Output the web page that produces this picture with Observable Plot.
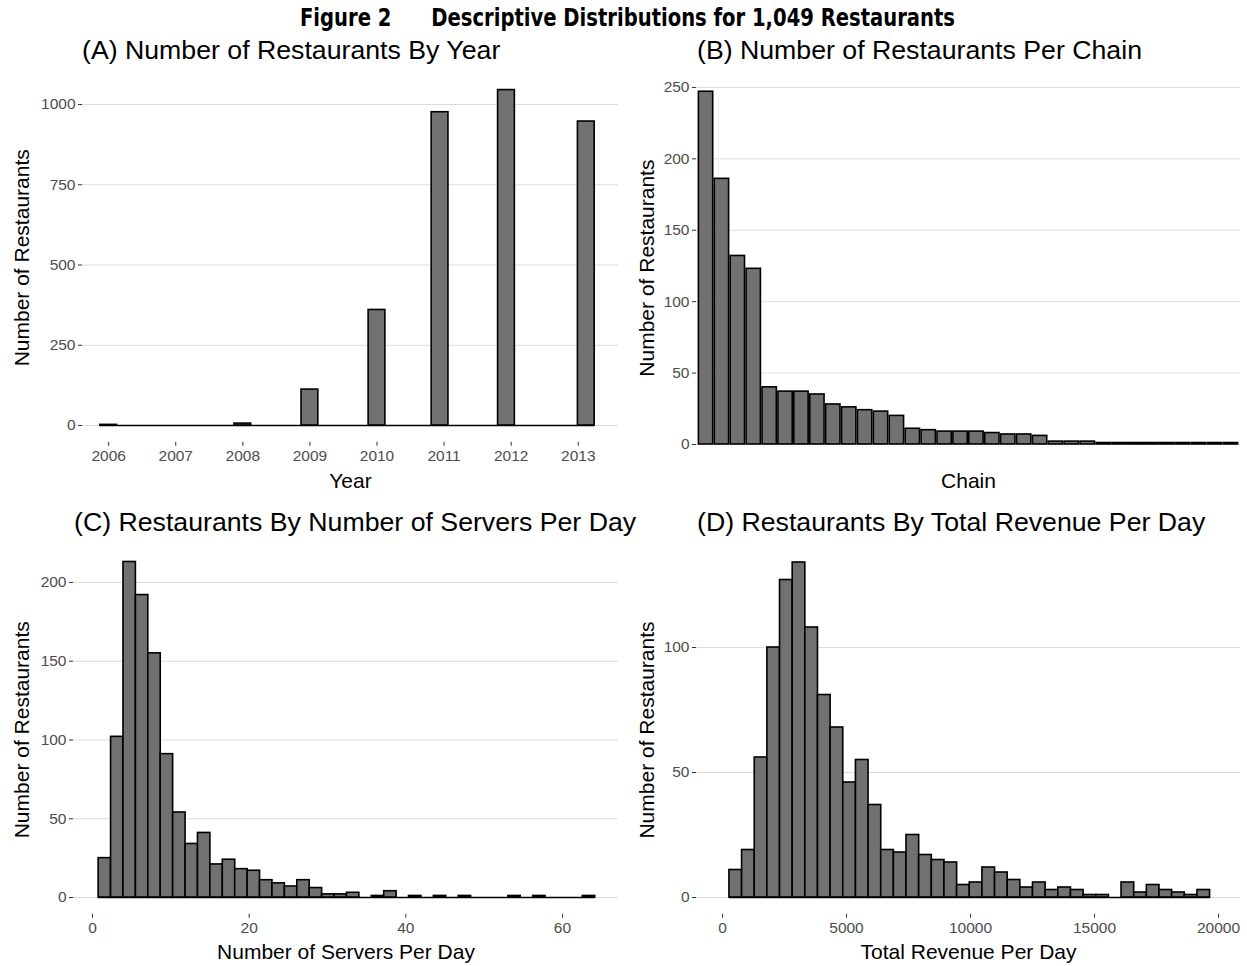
<!DOCTYPE html>
<html><head><meta charset="utf-8">
<script src="https://cdn.jsdelivr.net/npm/d3@7"></script>
<script src="https://cdn.jsdelivr.net/npm/@observablehq/plot@0.6"></script>
<style>
html,body{margin:0;padding:0;background:#fff;overflow:hidden}
#fig{position:relative;width:1247px;height:966px;background:#fff;font-family:"Liberation Sans",Arial,sans-serif;overflow:hidden}
.ttl{position:absolute;white-space:nowrap;line-height:1;color:#000}
.ptitle{font-size:26.7px}
.panel{position:absolute}
</style></head><body>
<div id="fig">
  <div id="figtitle" class="ttl" style="left:300px;top:6px;font-family:'Liberation Sans Narrow','DejaVu Sans Condensed','Liberation Sans',sans-serif;font-weight:bold;font-size:24px;transform-origin:0 50%"><span>Figure 2</span><span style="margin-left:44px">Descriptive Distributions for 1,049 Restaurants</span></div>
  <div class="ttl ptitle" style="left:82px;top:37px">(A) Number of Restaurants By Year</div>
  <div class="ttl ptitle" style="left:697px;top:37px">(B) Number of Restaurants Per Chain</div>
  <div class="ttl ptitle" style="left:74px;top:509px">(C) Restaurants By Number of Servers Per Day</div>
  <div class="ttl ptitle" style="left:697px;top:509px">(D) Restaurants By Total Revenue Per Day</div>
  <div id="pA" class="panel" style="left:0;top:60px"></div>
  <div id="pB" class="panel" style="left:625px;top:60px"></div>
  <div id="pC" class="panel" style="left:0;top:530px"></div>
  <div id="pD" class="panel" style="left:625px;top:530px"></div>
</div>
<script>
// ---------------- DATA ----------------
// (A) restaurants by year (histogram bins centred near each year)
const years = [2006, 2007, 2008, 2009, 2010, 2011, 2012, 2013];
const yearBinCenters = [2006.0, 2008.0, 2009.0, 2010.0, 2010.94, 2011.93, 2013.12];
const yearCounts = [2, 6, 112, 360, 976, 1045, 947];
const yearBinWidth = 0.25;
const yTicksA = [0, 250, 500, 750, 1000];

// (B) restaurants per chain (sorted)
const chainCounts = [247, 186, 132, 123, 40, 37, 37, 35, 28, 26, 24, 23, 20,
  11, 10, 9, 9, 9, 8, 7, 7, 6, 2, 2, 2, 1, 1, 1, 1, 1, 1, 1, 1, 1];
const yTicksB = [0, 50, 100, 150, 200, 250];

// (C) servers per day histogram
const serverBinStart = 0.78;
const serverBinWidth = 1.585;
const serverCounts = [25, 102, 213, 192, 155, 91, 54, 34, 41, 21,
  24, 18, 17, 11, 9, 7, 11, 6, 2, 2,
  3, 0, 1, 4, 0, 1, 0, 1, 0, 1,
  0, 0, 0, 1, 0, 1, 0, 0, 0, 1];
const xTicksC = [0, 20, 40, 60];
const yTicksC = [0, 50, 100, 150, 200];

// (D) total revenue per day histogram
const revenueBinStart = 280;
const revenueBinWidth = 510;
const revenueCounts = [11, 19, 56, 100, 127, 134, 108, 81, 68, 46,
  55, 37, 19, 18, 25, 17, 15, 14, 5, 6,
  12, 10, 7, 4, 6, 3, 4, 3, 1, 1,
  0, 6, 2, 5, 3, 2, 1, 3];
const xTicksD = [0, 5000, 10000, 15000, 20000];
const yTicksD = [0, 50, 100];

// ---------------- STYLE ----------------
const FILL = "#717171", EDGE = "#000", GRID = "#dcdcdc";
const TICKTXT = "#4d4d4d", TICK = "#333";
const FS = 15.5, TFS = 21, SW = 1.6;
const style = {fontFamily: '"Liberation Sans", Arial, sans-serif', fontSize: FS + "px", background: "transparent", overflow: "visible", color: TICKTXT};
const fmt = d => String(d);

function gridAndY(ticks) {
  return [
    Plot.gridY(ticks, {stroke: GRID, strokeOpacity: 1, strokeWidth: 1}),
    Plot.axisY(ticks, {tickSize: 4, tickPadding: 3, fontSize: FS, fill: TICKTXT, stroke: TICK, tickFormat: fmt, label: null})
  ];
}
function titles(xLabel, xdy, ydx) {
  return [
    Plot.text([xLabel], {text: d => d, frameAnchor: "bottom", textAnchor: "middle", lineAnchor: "middle", dy: xdy, fontSize: TFS, fill: "#000"}),
    Plot.text(["Number of Restaurants"], {text: d => d, frameAnchor: "left", textAnchor: "middle", lineAnchor: "middle", rotate: -90, dx: ydx, fontSize: TFS, fill: "#000"})
  ];
}
function histRows(start, width, counts) {
  return counts.map((c, i) => ({x1: start + i * width, x2: start + (i + 1) * width, count: c}));
}

// ---------------- (A) ----------------
const yearRows = yearBinCenters.map((c, i) => ({x1: c - yearBinWidth / 2, x2: c + yearBinWidth / 2, count: yearCounts[i]}));
const A = Plot.plot({
  width: 625, height: 440, marginLeft: 82, marginRight: 7, marginTop: 12.8, marginBottom: 58.2,
  style,
  x: {type: "linear", domain: [2005.61, 2013.6]},
  y: {domain: [-52.25, 1097.25]},
  marks: [
    ...gridAndY(yTicksA),
    Plot.axisX(years, {tickSize: 4, tickPadding: 4, fontSize: FS, fill: TICKTXT, stroke: TICK, tickFormat: fmt, label: null}),
    Plot.ruleY([{y: 0, x1: yearRows[0].x1, x2: yearRows[yearRows.length - 1].x2}], {y: "y", x1: "x1", x2: "x2", stroke: EDGE, strokeWidth: SW}),
    Plot.rectY(yearRows, {x1: "x1", x2: "x2", y: "count", fill: FILL, stroke: EDGE, strokeWidth: SW}),
    ...titles("Year", 39, -60)
  ]
});
document.getElementById("pA").append(A);

// ---------------- (B) ----------------
const chainRows = chainCounts.map((c, i) => ({chain: "Chain " + (i + 1), count: c}));
const B = Plot.plot({
  width: 622, height: 440, marginLeft: 71, marginRight: 7, marginTop: 13.6, marginBottom: 38.4,
  style,
  x: {type: "band", domain: chainRows.map(d => d.chain), paddingInner: 0.1, paddingOuter: 0.15, axis: null},
  y: {domain: [-12.35, 259.35]},
  marks: [
    ...gridAndY(yTicksB),
    Plot.barY(chainRows, {x: "chain", y: "count", fill: FILL, stroke: EDGE, strokeWidth: SW}),
    ...titles("Chain", 19.4, -49)
  ]
});
document.getElementById("pB").append(B);

// ---------------- (C) ----------------
const serverRows = histRows(serverBinStart, serverBinWidth, serverCounts);
const C = Plot.plot({
  width: 625, height: 436, marginLeft: 73, marginRight: 7, marginTop: 14.7, marginBottom: 52.2,
  style,
  x: {type: "linear", domain: [-2.43, 67.15]},
  y: {domain: [-10.65, 223.65]},
  marks: [
    ...gridAndY(yTicksC),
    Plot.axisX(xTicksC, {tickSize: 4, tickPadding: 4, fontSize: FS, fill: TICKTXT, stroke: TICK, tickFormat: fmt, label: null}),
    Plot.ruleY([{y: 0, x1: serverRows[0].x1, x2: serverRows[serverRows.length - 1].x2}], {y: "y", x1: "x1", x2: "x2", stroke: EDGE, strokeWidth: SW}),
    Plot.rectY(serverRows.filter(d => d.count > 0), {x1: "x1", x2: "x2", y: "count", fill: FILL, stroke: EDGE, strokeWidth: SW}),
    ...titles("Number of Servers Per Day", 38.2, -51)
  ]
});
document.getElementById("pC").append(C);

// ---------------- (D) ----------------
const revenueRows = histRows(revenueBinStart, revenueBinWidth, revenueCounts);
const D = Plot.plot({
  width: 622, height: 436, marginLeft: 71, marginRight: 7, marginTop: 15.25, marginBottom: 52.25,
  style,
  x: {type: "linear", domain: [-1048, 20887]},
  y: {domain: [-6.7, 140.7]},
  marks: [
    ...gridAndY(yTicksD),
    Plot.axisX(xTicksD, {tickSize: 4, tickPadding: 4, fontSize: FS, fill: TICKTXT, stroke: TICK, tickFormat: fmt, label: null}),
    Plot.ruleY([{y: 0, x1: revenueRows[0].x1, x2: revenueRows[revenueRows.length - 1].x2}], {y: "y", x1: "x1", x2: "x2", stroke: EDGE, strokeWidth: SW}),
    Plot.rectY(revenueRows.filter(d => d.count > 0), {x1: "x1", x2: "x2", y: "count", fill: FILL, stroke: EDGE, strokeWidth: SW}),
    ...titles("Total Revenue Per Day", 38.2, -49)
  ]
});
document.getElementById("pD").append(D);

// fit figure title to its measured span (x 300 -> 955)
const ft = document.getElementById("figtitle");
const w = ft.getBoundingClientRect().width;
if (w > 0) ft.style.transform = `scaleX(${(655 / w).toFixed(4)})`;
</script>
</body></html>
